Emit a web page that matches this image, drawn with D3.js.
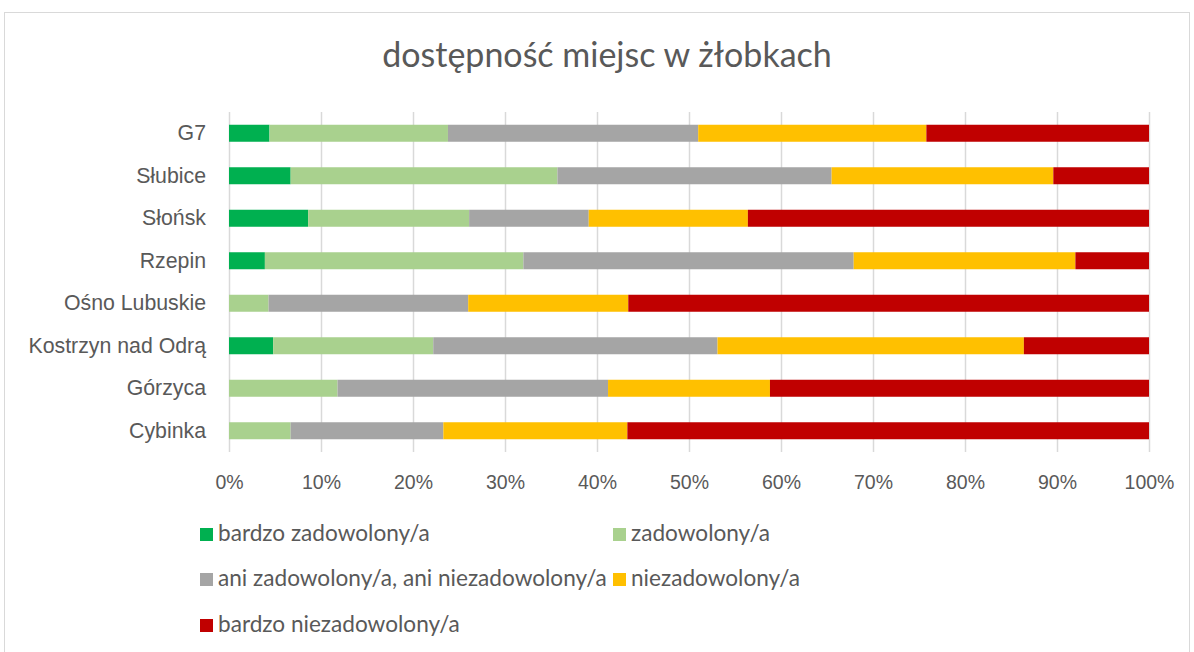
<!DOCTYPE html>
<html>
<head>
<meta charset="utf-8">
<script src="https://cdn.jsdelivr.net/npm/d3@7"></script>
<style>
  html, body { margin: 0; padding: 0; background: #fff; }
  svg { display: block; font-family: Lato, "Liberation Sans", sans-serif; }
</style>
</head>
<body>
<svg id="chart" width="1194" height="652"></svg>
<script>
// Towns (top to bottom) and the share of answers per satisfaction level, in %
const categories = ["G7", "Słubice", "Słońsk", "Rzepin", "Ośno Lubuskie", "Kostrzyn nad Odrą", "Górzyca", "Cybinka"];
const seriesNames = ["bardzo zadowolony/a", "zadowolony/a", "ani zadowolony/a, ani niezadowolony/a", "niezadowolony/a", "bardzo niezadowolony/a"];
const bardzoZadowolony    = [4.4, 6.7, 8.6, 3.9, 0.0, 4.8, 0.0, 0.0];
const zadowolony          = [19.4, 29.0, 17.5, 28.1, 4.3, 17.4, 11.8, 6.7];
const ani                 = [27.2, 29.8, 13.0, 35.9, 21.7, 30.9, 29.4, 16.6];
const niezadowolony       = [24.8, 24.1, 17.3, 24.1, 17.4, 33.3, 17.6, 20.0];
const bardzoNiezadowolony = [24.2, 10.4, 43.6, 8.0, 56.6, 13.6, 41.2, 56.7];
const tickValues = [0, 10, 20, 30, 40, 50, 60, 70, 80, 90, 100];
const colors = ["#00B050", "#A9D18E", "#A5A5A5", "#FFC000", "#C00000"];

const svg = d3.select("#chart");
const textColor = "#595959";

// chart frame
svg.append("rect")
  .attr("x", 4.5).attr("y", 12.5).attr("width", 1185).attr("height", 660)
  .attr("fill", "#fff").attr("stroke", "#d9d9d9").attr("stroke-width", 1);

// title
svg.append("text")
  .attr("x", 607).attr("y", 58)
  .attr("text-anchor", "middle").attr("dominant-baseline", "middle")
  .attr("fill", textColor).attr("font-size", 34)
  .text("dostępność miejsc w żłobkach");

const x = d3.scaleLinear().domain([0, 100]).range([229, 1149]);
const y = d3.scaleBand().domain(categories).range([112, 452]).paddingInner(0.6).paddingOuter(0.3);

// gridlines
svg.append("g")
  .selectAll("line")
  .data(tickValues)
  .join("line")
  .attr("x1", d => x(d) + 0.5).attr("x2", d => x(d) + 0.5)
  .attr("y1", 112).attr("y2", 452)
  .attr("stroke", "#d9d9d9").attr("stroke-width", 1.5);

// x axis labels
const xAxis = d3.axisBottom(x).tickValues(tickValues).tickFormat(d => d + "%").tickSize(0).tickPadding(0);
const gx = svg.append("g").attr("transform", "translate(0,475)").call(xAxis);
gx.select(".domain").remove();
gx.selectAll("text").attr("fill", textColor).attr("font-size", 19.5).attr("font-family", null);

// y axis labels
const yAxis = d3.axisLeft(y).tickSize(0).tickPadding(0);
const gy = svg.append("g").attr("transform", "translate(206,0)").call(yAxis);
gy.select(".domain").remove();
gy.selectAll("text").attr("fill", textColor).attr("font-size", 21.3).attr("font-family", null);

// stacked bars
const rows = categories.map((c, i) => ({
  cat: c,
  v0: bardzoZadowolony[i], v1: zadowolony[i], v2: ani[i], v3: niezadowolony[i], v4: bardzoNiezadowolony[i]
}));
const stack = d3.stack().keys(["v0", "v1", "v2", "v3", "v4"]);
const layers = stack(rows);

svg.append("g")
  .selectAll("g")
  .data(layers)
  .join("g")
  .attr("fill", (d, i) => colors[i])
  .selectAll("rect")
  .data(d => d)
  .join("rect")
  .attr("x", d => x(d[0]))
  .attr("width", d => Math.max(0, x(d[1]) - x(d[0])))
  .attr("y", d => y(d.data.cat) + y.bandwidth() / 2 - 8.5)
  .attr("height", 17);

// legend
const legendPos = [
  { x: 200, y: 534 }, { x: 613, y: 534 },
  { x: 200, y: 579 }, { x: 613, y: 579 },
  { x: 200, y: 625 }
];
const lg = svg.append("g")
  .selectAll("g")
  .data(seriesNames)
  .join("g")
  .attr("transform", (d, i) => `translate(${legendPos[i].x},${legendPos[i].y})`);
lg.append("rect")
  .attr("x", 0).attr("y", -6).attr("width", 13).attr("height", 13)
  .attr("fill", (d, i) => colors[i]);
lg.append("text")
  .attr("x", 18).attr("y", 1)
  .attr("dominant-baseline", "middle")
  .attr("fill", textColor).attr("font-size", 22.6)
  .text(d => d);
</script>
</body>
</html>
